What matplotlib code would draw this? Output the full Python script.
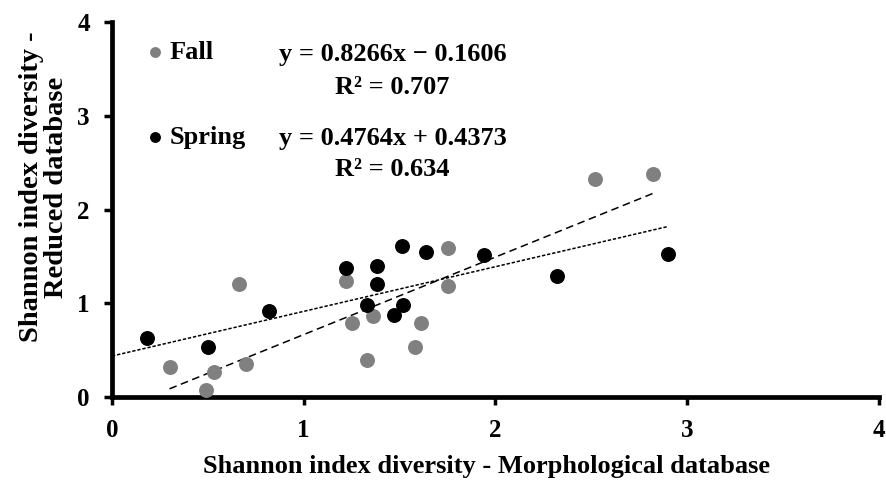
import matplotlib
matplotlib.use("Agg")
import matplotlib.pyplot as plt
import numpy as np

plt.rcParams["font.family"] = ["Liberation Serif", "DejaVu Serif"]
plt.rcParams["font.weight"] = "bold"

# Shannon index: morphological (x) vs reduced database (y)
fall_x = [0.30, 0.49, 0.53, 0.70, 0.66, 1.22, 1.25, 1.36, 1.33, 1.61, 1.58, 1.75, 1.75, 2.52, 2.82]
fall_y = [0.32, 0.08, 0.27, 0.35, 1.21, 1.24, 0.79, 0.86, 0.39, 0.79, 0.53, 1.59, 1.18, 2.33, 2.38]
spring_x = [0.18, 0.50, 0.82, 1.22, 1.38, 1.38, 1.51, 1.64, 1.94, 1.33, 1.52, 1.47, 2.32, 2.90]
spring_y = [0.63, 0.53, 0.92, 1.38, 1.40, 1.21, 1.61, 1.55, 1.52, 0.98, 0.98, 0.87, 1.29, 1.53]

fall_fit = (0.8266, -0.1606, 0.707)
spring_fit = (0.4764, 0.4373, 0.634)

fig = plt.figure(figsize=(8.86, 4.83), dpi=100)
ax = fig.add_axes([0.1264, 0.178, 0.8656, 0.7765])

gray = "#808080"
ax.scatter(fall_x, fall_y, s=95, color=gray, zorder=3, label="Fall")
ax.scatter(spring_x, spring_y, s=95, color="black", zorder=3, label="Spring")

# trendlines
xf = np.array([min(fall_x), max(fall_x)])
ax.plot(xf, fall_fit[0] * xf + fall_fit[1], color="black", lw=1.1,
        dashes=(5, 3), zorder=2)
xs = np.array([0, max(spring_x)])
ax.plot(xs, spring_fit[0] * xs + spring_fit[1], color="black", lw=1.1,
        dashes=(2.2, 1.2), zorder=2)

ax.set_xlim(0, 4)
ax.set_ylim(0, 4)
ax.set_xticks([0, 1, 2, 3, 4])
ax.set_yticks([0, 1, 2, 3, 4])
for s in ["top", "right"]:
    ax.spines[s].set_visible(False)
for s in ["left", "bottom"]:
    ax.spines[s].set_linewidth(3.4)
ax.tick_params(axis="both", length=6, width=2.5, direction="out")
ax.tick_params(axis="x", pad=10)
ax.tick_params(axis="y", pad=10)
for lab in ax.get_xticklabels() + ax.get_yticklabels():
    lab.set_fontweight("bold")
    lab.set_fontsize(18)

ax.set_xlabel("Shannon index diversity - Morphological database",
              fontsize=19, fontweight="bold")
ax.xaxis.set_label_coords(0.488, -0.155)
ax.set_ylabel("Shannon index diversity -\nReduced database",
              fontsize=20.5, fontweight="bold", linespacing=1.0)
ax.yaxis.set_label_coords(-0.056, 0.56)

leg = ax.legend(loc="upper left", bbox_to_anchor=(0.017, 1.0), frameon=False,
                fontsize=19, markerscale=0.7, handletextpad=0.1,
                handlelength=0.9, labelspacing=2.35, borderaxespad=0.3)
for t in leg.get_texts():
    t.set_fontweight("bold")

eq_kw = dict(fontsize=19, fontweight="bold", ha="center", va="center",
             transform=ax.transAxes)
ax.text(0.366, 0.912, f"y = {fall_fit[0]}x \u2212 {abs(fall_fit[1])}", **eq_kw)
ax.text(0.366, 0.825, f"R\u00b2 = {fall_fit[2]}", **eq_kw)
ax.text(0.366, 0.688, f"y = {spring_fit[0]}x + {spring_fit[1]}", **eq_kw)
ax.text(0.366, 0.607, f"R\u00b2 = {spring_fit[2]}", **eq_kw)

fig.savefig("out.png", dpi=100)
